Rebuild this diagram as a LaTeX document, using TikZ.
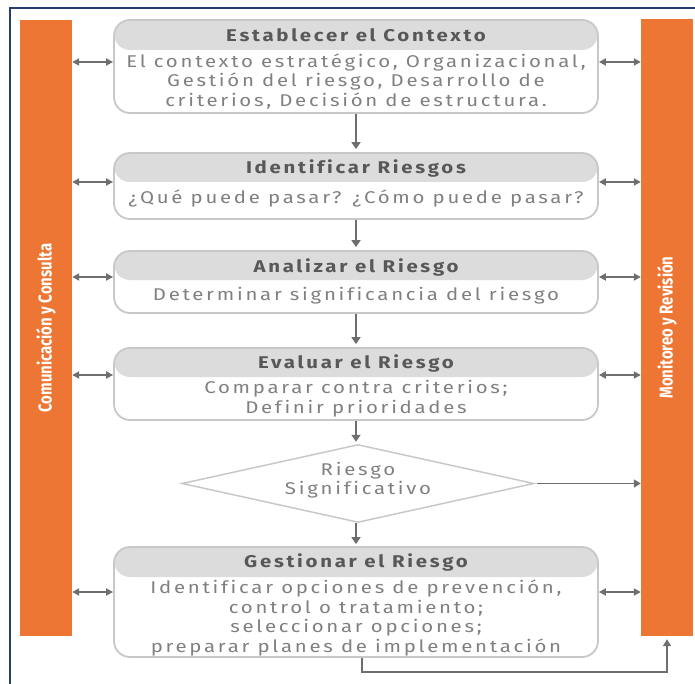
\documentclass[tikz,border=0pt]{standalone}
\usepackage{fontspec}
\setmainfont{Fira Sans}
\newfontfamily\bodyfont[FakeStretch=1.2,LetterSpace=16,Ligatures=NoCommon]{Fira Sans}
\newfontfamily\headfont[FakeStretch=1.2,LetterSpace=16,Ligatures=NoCommon]{Fira Sans}
\newfontfamily\barfont[FakeStretch=0.8]{Fira Sans}
\usetikzlibrary{arrows.meta,shapes.geometric,calc}

\definecolor{barorange}{RGB}{238,118,52}
\definecolor{hdrgray}{RGB}{220,220,220}
\definecolor{edgegray}{RGB}{200,200,200}
\definecolor{headtext}{RGB}{88,88,88}
\definecolor{bodytext}{RGB}{128,128,128}
\definecolor{arrowgray}{RGB}{110,110,110}
\definecolor{framenavy}{RGB}{40,60,110}

\tikzset{
  stagebox/.style={rectangle, draw=edgegray, line width=1.8pt, fill=white,
    rounded corners=16pt, inner sep=0pt, minimum width=484pt,
    path picture={\fill[hdrgray] (path picture bounding box.north west)
      rectangle ([yshift=-#1]path picture bounding box.north east);}},
  headlbl/.style={text=headtext, inner sep=0pt,
    font=\headfont\bfseries\fontsize{17}{20}\selectfont},
  bodylbl/.style={text=bodytext, inner sep=0pt, align=center,
    font=\bodyfont\fontsize{17}{19.5}\selectfont},
  sidebar/.style={rectangle, fill=barorange, inner sep=0pt, minimum width=52pt},
  barlbl/.style={text=white, inner sep=0pt, rotate=90,
    font=\barfont\bfseries\fontsize{18.6}{21}\selectfont},
  flow/.style={draw=arrowgray, line width=2.4pt, -{Triangle[length=7pt,width=9pt]}},
  thinflow/.style={draw=arrowgray, line width=1.6pt, -{Triangle[length=7pt,width=8pt]}},
  twoway/.style={draw=arrowgray, line width=2pt,
    {Triangle[length=7pt,width=7pt]}-{Triangle[length=7pt,width=7pt]}},
}

\begin{document}
\begin{tikzpicture}[x=1pt,y=-1pt]
\useasboundingbox (0,0) rectangle (695,684);

% outer frame (left and top edges)
\draw[framenavy, line width=2pt] (10,684) -- (10,8) -- (695,8);

% side bars
\node[sidebar, minimum height=616pt] (lbar) at (46,328) {};
\node[sidebar, minimum height=617pt] (rbar) at (667,327.5) {};
\node[barlbl] (lbl) at (46,328) {Comunicación y Consulta};
\node[barlbl] (rlbl) at (667,327.5) {Monitoreo y Revisión};

% process stages
\node[stagebox=30pt, minimum height=93pt] (b1) at (356,66.5) {};
\node[headlbl] (b1h) at (356,35) {Establecer el Contexto};
\node[bodylbl] (b1t) at (356,81.5) {El contexto estratégico, Organizacional,\\Gestión del riesgo, Desarrollo de\\criterios, Decisión de estructura.};

\node[stagebox=29pt, minimum height=66pt] (b2) at (356,186) {};
\node[headlbl] (b2h) at (356,168) {Identificar Riesgos};
\node[bodylbl] (b2t) at (356,199) {¿Qué puede pasar? ¿Cómo puede pasar?};

\node[stagebox=29pt, minimum height=62pt] (b3) at (356,282) {};
\node[headlbl] (b3h) at (356,267) {Analizar el Riesgo};
\node[bodylbl] (b3t) at (356,296) {Determinar significancia del riesgo};

\node[stagebox=29pt, minimum height=72pt] (b4) at (356,384) {};
\node[headlbl] (b4h) at (356,363) {Evaluar el Riesgo};
\node[bodylbl] (b4t) at (356,398.5) {Comparar contra criterios;\\Definir prioridades};

\node[diamond, draw=edgegray, line width=1.5pt, inner sep=0pt,
      minimum width=352pt, minimum height=78pt] (dia) at (358,483.5) {};
\node[bodylbl] (diat) at (358,480) {Riesgo\\Significativo};

\node[stagebox=30pt, minimum height=110pt] (b5) at (356,602) {};
\node[headlbl] (b5h) at (356,562) {Gestionar el Riesgo};
\node[bodylbl] (b5t) at (356,618) {Identificar opciones de prevención,\\control o tratamiento;\\seleccionar opciones;\\preparar planes de implementación};

% main flow
\draw[flow, shorten >=3pt] (b1.south) -- (b2.north);
\draw[flow, shorten >=3pt] (b2.south) -- (b3.north);
\draw[flow, shorten >=3pt] (b3.south) -- (b4.north);
\draw[flow, shorten >=2pt] (b4.south) -- (b4.south |- dia.north);
\draw[flow, shorten >=2pt] (b4.south |- dia.south) -- (b5.north);
\draw[thinflow, shorten <=2pt] (dia.east) -- (rbar.west |- dia.east);
\draw[thinflow, shorten >=3pt] ([xshift=6pt]b5.south) -- ++(0,14) -| (rbar.south);

% exchanges with the side bars
\foreach \b/\dy in {b1/-4.5, b2/-4, b3/-5, b4/-9, b5/-10}{
  \coordinate (\b L) at ([yshift=-\dy pt]\b.west);
  \coordinate (\b R) at ([yshift=-\dy pt]\b.east);
  \draw[twoway] (lbar.east |- \b L) -- (\b L);
  \draw[twoway] (\b R) -- (rbar.west |- \b R);
}
\end{tikzpicture}
\end{document}
